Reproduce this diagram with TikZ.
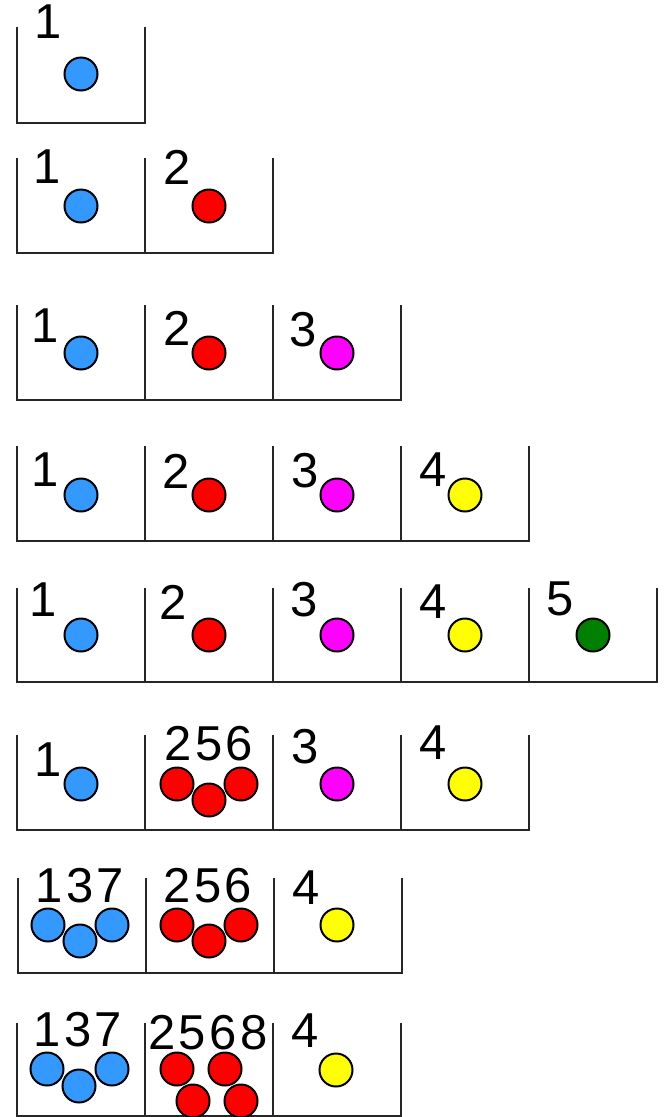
\documentclass[tikz,border=0pt]{standalone}
\usepackage{fontspec}
\newfontfamily\digitfont[LetterSpace=7]{Liberation Sans}
\usepackage{xcolor}
\definecolor{ballblue}{HTML}{3399FF}
\definecolor{ballred}{HTML}{FF0000}
\definecolor{ballmagenta}{HTML}{FF00FF}
\definecolor{ballyellow}{HTML}{FFFF00}
\definecolor{ballgreen}{HTML}{007F00}
\usetikzlibrary{positioning}

% one row of bins: \binrow{x0}{top}{bottom}{number of bins}
\newcommand{\binrow}[4]{%
	\draw[wall] (#1,#2) -- (#1,#3) -- ({#1+128*#4},#3) -- ({#1+128*#4},#2);
	\foreach \k in {1,...,#4} {
		\draw[wall] ({#1+128*\k},#2) -- ({#1+128*\k},#3);
	}
}

\begin{document}
\begin{tikzpicture}[
		x=1pt, y=-1pt,
		wall/.style={line width=2.2pt, black!85},
		ball/.style={circle, draw=black, line width=2pt, minimum size=33pt, inner sep=0pt},
		num/.style={font=\digitfont\fontsize{49}{49}\selectfont, inner sep=0pt}
	]
		\useasboundingbox (0,0) rectangle (664,1117);

		% row 1
		\binrow{17}{27}{123}{1}
		\node[num] (r1n1) at (48,22) {1};
		\node[ball, fill=ballblue] (r1b1) at (81,74) {};

		% row 2
		\binrow{17}{158}{253}{2}
		\node[num] (r2n1) at (47,167) {1};
		\node[num] (r2n2) at (177,167) {2};
		\node[ball, fill=ballblue] (r2b1) at (81,206) {};
		\node[ball, fill=ballred] (r2b2) at (209,206) {};

		% row 3
		\binrow{17}{305}{400}{3}
		\node[num] (r3n1) at (45,326) {1};
		\node[num] (r3n2) at (177,328) {2};
		\node[num] (r3n3) at (303,330) {3};
		\node[ball, fill=ballblue] (r3b1) at (81,353) {};
		\node[ball, fill=ballred] (r3b2) at (209,353) {};
		\node[ball, fill=ballmagenta] (r3b3) at (337,353) {};

		% row 4
		\binrow{17}{446}{541}{4}
		\node[num] (r4n1) at (45,470) {1};
		\node[num] (r4n2) at (176,471) {2};
		\node[num] (r4n3) at (305,471) {3};
		\node[num] (r4n4) at (433,470) {4};
		\node[ball, fill=ballblue] (r4b1) at (81,495) {};
		\node[ball, fill=ballred] (r4b2) at (209,495) {};
		\node[ball, fill=ballmagenta] (r4b3) at (337,495) {};
		\node[ball, fill=ballyellow] (r4b4) at (465,495) {};

		% row 5
		\binrow{17}{588}{682}{5}
		\node[num] (r5n1) at (43,600) {1};
		\node[num] (r5n2) at (173,602) {2};
		\node[num] (r5n3) at (304,600) {3};
		\node[num] (r5n4) at (433,602) {4};
		\node[num] (r5n5) at (560,599) {5};
		\node[ball, fill=ballblue] (r5b1) at (81,635) {};
		\node[ball, fill=ballred] (r5b2) at (209,635) {};
		\node[ball, fill=ballmagenta] (r5b3) at (337,635) {};
		\node[ball, fill=ballyellow] (r5b4) at (465,635) {};
		\node[ball, fill=ballgreen] (r5b5) at (593,635) {};

		% row 6
		\binrow{17}{735}{830}{4}
		\node[num] (r6n1) at (48,760) {1};
		\node[num] (r6n2) at (209,744) {256};
		\node[num] (r6n3) at (305,747) {3};
		\node[num] (r6n4) at (433,743) {4};
		\node[ball, fill=ballblue] (r6b1) at (81,784) {};
		\node[ball, fill=ballred] (r6b2) at (177,784) {};
		\node[ball, fill=ballred] (r6b5) at (209,800) {};
		\node[ball, fill=ballred] (r6b6) at (241,784) {};
		\node[ball, fill=ballmagenta] (r6b3) at (337,784) {};
		\node[ball, fill=ballyellow] (r6b4) at (465,784) {};

		% row 7
		\binrow{18}{878}{973}{3}
		\node[num] (r7n1) at (80,886) {137};
		\node[num] (r7n2) at (208,886) {256};
		\node[num] (r7n4) at (306,888) {4};
		\node[ball, fill=ballblue] (r7b1) at (48,925) {};
		\node[ball, fill=ballblue] (r7b3) at (80,941) {};
		\node[ball, fill=ballblue] (r7b7) at (112,925) {};
		\node[ball, fill=ballred] (r7b2) at (177,925) {};
		\node[ball, fill=ballred] (r7b5) at (209,941) {};
		\node[ball, fill=ballred] (r7b6) at (241,925) {};
		\node[ball, fill=ballyellow] (r7b4) at (337,925) {};

		% row 8
		\binrow{17}{1023}{1116}{3}
		\node[num] (r8n1) at (78,1030) {137};
		\node[num] (r8n2) at (208,1033) {2568};
		\node[num] (r8n4) at (305,1031) {4};
		\node[ball, fill=ballblue] (r8b1) at (47,1069) {};
		\node[ball, fill=ballblue] (r8b3) at (79,1086) {};
		\node[ball, fill=ballblue] (r8b7) at (112,1069) {};
		\node[ball, fill=ballred] (r8b2) at (177,1069) {};
		\node[ball, fill=ballred] (r8b6) at (225,1069) {};
		\node[ball, fill=ballred] (r8b5) at (193,1101) {};
		\node[ball, fill=ballred] (r8b8) at (241,1101) {};
		\node[ball, fill=ballyellow] (r8b4) at (336,1070) {};
	\end{tikzpicture}
\end{document}
